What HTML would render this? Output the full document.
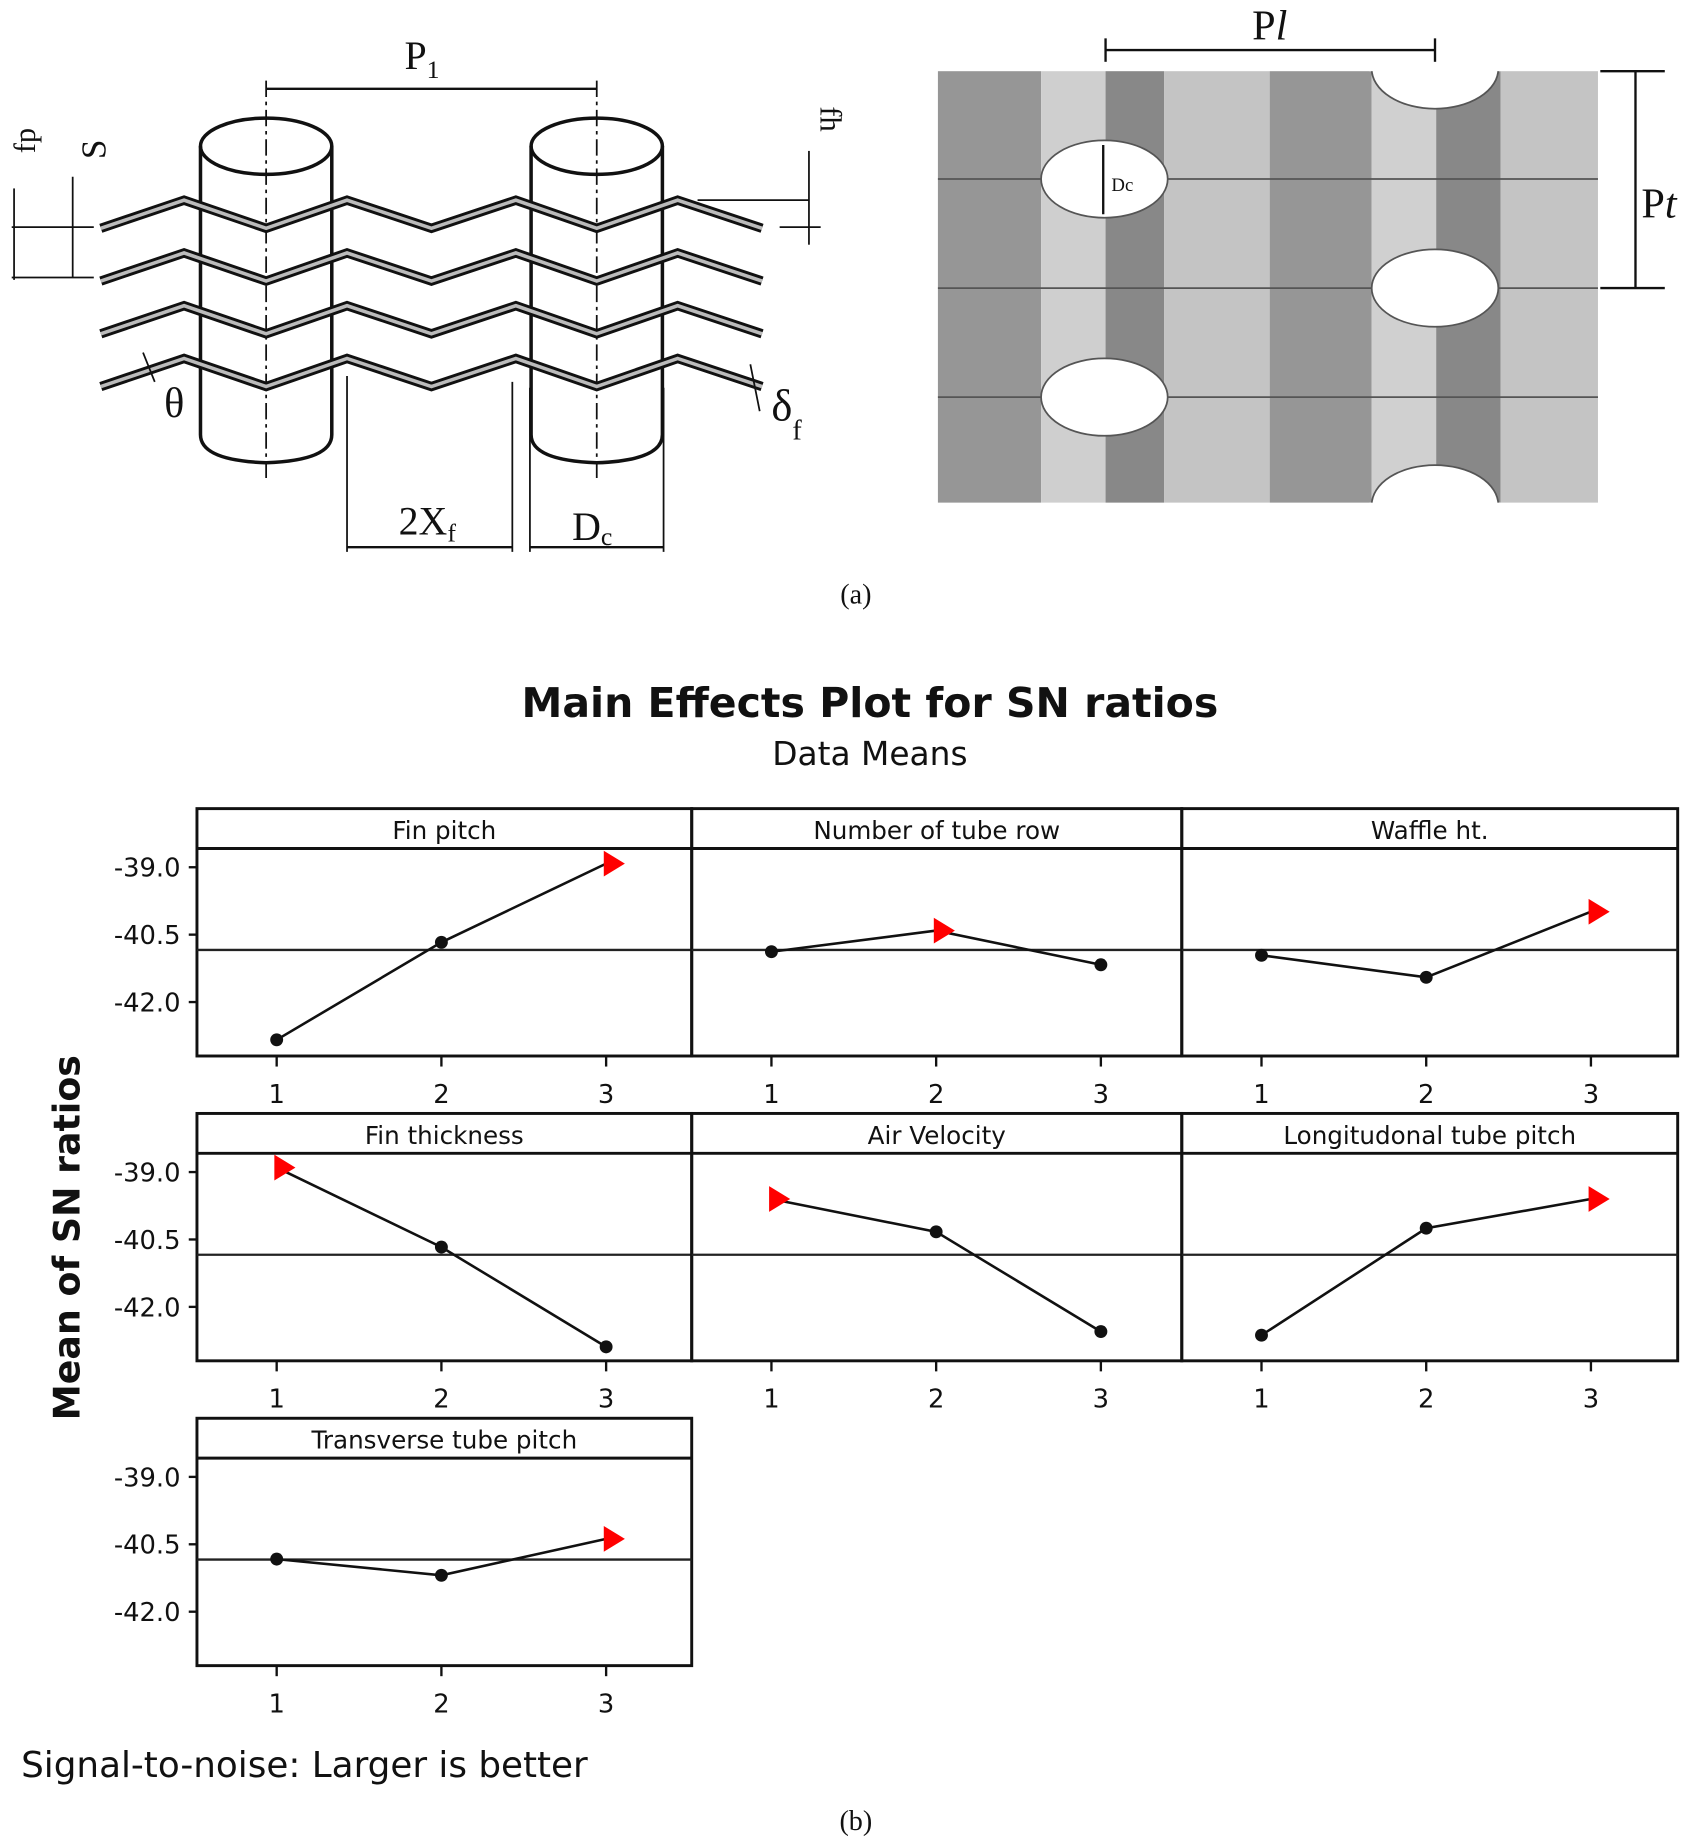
<!DOCTYPE html>
<html><head><meta charset="utf-8"><style>
html,body{margin:0;padding:0;background:#fff;}
svg{display:block;}
</style></head><body>
<svg id="root" width="1707" height="1840" viewBox="0 0 1456 1568" xmlns="http://www.w3.org/2000/svg">
<rect width="1456" height="1568" fill="#fff"/>
<!-- (a) left drawing -->
<g id="fin-drawing" fill="none" stroke="#111">
  <line x1="227" y1="75" x2="509" y2="75" stroke-width="2"/>
  <line x1="227" y1="68" x2="227" y2="410" stroke-width="1.5" stroke-dasharray="14,4,3,4"/>
  <line x1="509" y1="68" x2="509" y2="410" stroke-width="1.5" stroke-dasharray="14,4,3,4"/>
  <g stroke-width="3">
    <ellipse cx="227" cy="124" rx="56" ry="24"/>
    <path d="M171 124 V370 Q171 392 227 394 Q283 392 283 370 V124"/>
  </g>
  <g stroke-width="3">
    <ellipse cx="509" cy="124" rx="56" ry="24"/>
    <path d="M453 124 V370 Q453 392 509 394 Q565 392 565 370 V124"/>
  </g>
  <g id="fins"></g>
  <line x1="12" y1="160" x2="12" y2="238" stroke-width="1.5"/>
  <line x1="10" y1="193" x2="80" y2="193" stroke-width="1.5"/>
  <line x1="10" y1="236" x2="80" y2="236" stroke-width="1.5"/>
  <line x1="62" y1="150" x2="62" y2="236" stroke-width="1.5"/>
  <line x1="690" y1="128" x2="690" y2="208" stroke-width="1.5"/>
  <line x1="665" y1="193" x2="700" y2="193" stroke-width="1.5"/>
  <line x1="595" y1="170" x2="690" y2="170" stroke-width="1.5"/>
  <line x1="296" y1="320" x2="296" y2="470" stroke-width="1.5"/>
  <line x1="437" y1="325" x2="437" y2="470" stroke-width="1.5"/>
  <line x1="296" y1="466" x2="437" y2="466" stroke-width="2"/>
  <line x1="452" y1="330" x2="452" y2="470" stroke-width="1.5"/>
  <line x1="566" y1="330" x2="566" y2="470" stroke-width="1.5"/>
  <line x1="452" y1="466" x2="566" y2="466" stroke-width="2"/>
  <line x1="122" y1="300" x2="132" y2="325" stroke-width="1.5"/>
  <line x1="640" y1="310" x2="648" y2="350" stroke-width="1.5"/>
</g>
<g font-family="Liberation Serif, serif" fill="#111">
  <text x="345" y="58" font-size="34">P<tspan font-size="22" dy="8">1</tspan></text>
  <text x="30" y="130" font-size="26" transform="rotate(-90 30 130)">fp</text>
  <text x="90" y="135" font-size="30" transform="rotate(-90 90 135)">S</text>
  <text x="700" y="90" font-size="26" transform="rotate(90 700 90)">fh</text>
  <text x="140" y="355" font-size="36">θ</text>
  <text x="658" y="358" font-size="38">δ<tspan font-size="24" dy="16">f</tspan></text>
  <text x="340" y="455" font-size="34">2X<tspan font-size="22" dy="6">f</tspan></text>
  <text x="488" y="460" font-size="34">D<tspan font-size="22" dy="4">c</tspan></text>
</g>
<!-- (a) right drawing -->
<g id="plate">
  <rect x="800" y="60" width="88" height="368" fill="#969696"/>
  <rect x="888" y="60" width="55" height="368" fill="#cfcfcf"/>
  <rect x="943" y="60" width="50" height="368" fill="#888"/>
  <rect x="993" y="60" width="90" height="368" fill="#c4c4c4"/>
  <rect x="1083" y="60" width="87" height="368" fill="#969696"/>
  <rect x="1170" y="60" width="55" height="368" fill="#d0d0d0"/>
  <rect x="1225" y="60" width="55" height="368" fill="#888"/>
  <rect x="1280" y="60" width="83" height="368" fill="#c4c4c4"/>
  <g stroke="#555" stroke-width="1.5">
    <line x1="800" y1="152" x2="1363" y2="152"/>
    <line x1="800" y1="245" x2="1363" y2="245"/>
    <line x1="800" y1="338" x2="1363" y2="338"/>
  </g>
  <g fill="#fff" stroke="#555" stroke-width="1.5">
    <ellipse cx="942" cy="152" rx="54" ry="33"/>
    <ellipse cx="1224" cy="245" rx="54" ry="33"/>
    <ellipse cx="942" cy="338" rx="54" ry="33"/>
  </g>
  <path d="M1170 58 A54 34 0 0 0 1278 58" fill="#fff" stroke="#555" stroke-width="1.5"/>
  <rect x="1168" y="56" width="112" height="4" fill="#fff"/>
  <path d="M1170 430 A54 34 0 0 1 1278 430" fill="#fff" stroke="#555" stroke-width="1.5"/>
  <rect x="1168" y="428" width="112" height="4" fill="#fff"/>
  <g stroke="#111" stroke-width="2" fill="none">
    <line x1="941" y1="123" x2="941" y2="182"/>
    <line x1="943" y1="42" x2="1224" y2="42"/>
    <line x1="943" y1="32" x2="943" y2="52"/>
    <line x1="1224" y1="32" x2="1224" y2="52"/>
    <line x1="1395" y1="60" x2="1395" y2="245"/>
    <line x1="1365" y1="60" x2="1420" y2="60"/>
    <line x1="1365" y1="245" x2="1420" y2="245"/>
  </g>
  <text x="948" y="162" font-family="Liberation Serif, serif" font-size="16" fill="#111">Dc</text>
  <text x="1068" y="33" font-family="Liberation Serif, serif" font-size="36" fill="#111">P<tspan font-style="italic">l</tspan></text>
  <text x="1400" y="185" font-family="Liberation Serif, serif" font-size="36" fill="#111">P<tspan font-style="italic">t</tspan></text>
</g>
<text x="730" y="514" font-family="Liberation Serif, serif" font-size="24" text-anchor="middle" fill="#111">(a)</text>
<!-- (b) chart -->
<text x="742" y="611" font-family="DejaVu Sans, sans-serif" font-weight="bold" font-size="35" text-anchor="middle" fill="#111">Main Effects Plot for SN ratios</text>
<text x="742" y="652" font-family="DejaVu Sans, sans-serif" font-size="28" text-anchor="middle" fill="#111">Data Means</text>
<text transform="translate(68 1055) rotate(-90)" font-family="DejaVu Sans, sans-serif" font-weight="bold" font-size="31" text-anchor="middle" fill="#111">Mean of SN ratios</text>
<g id="panels"></g>
<text x="18" y="1515" font-family="DejaVu Sans, sans-serif" font-size="30.5" fill="#111">Signal-to-noise: Larger is better</text>
<text x="730" y="1560" font-family="Liberation Serif, serif" font-size="24" text-anchor="middle" fill="#111">(b)</text>
</svg>
<script>
const factorNames = ["Fin pitch","Number of tube row","Waffle ht.","Fin thickness","Air Velocity","Longitudonal tube pitch","Transverse tube pitch"];
const levels = [1,2,3];
const finPitch = [-42.84,-40.67,-38.92];
const tubeRows = [-40.88,-40.41,-41.17];
const waffleHt = [-40.96,-41.45,-39.99];
const finThickness = [-38.9,-40.67,-42.89];
const airVelocity = [-39.6,-40.33,-42.55];
const longPitch = [-42.63,-40.25,-39.6];
const transPitch = [-40.83,-41.19,-40.38];
const grandMean = -40.84;
const yTicks = [-39.0,-40.5,-42.0];
const yTickLabels = ["-39.0","-40.5","-42.0"];

const NS="http://www.w3.org/2000/svg";
const series=[finPitch,tubeRows,waffleHt,finThickness,airVelocity,longPitch,transPitch];
const panelsG=document.getElementById('panels');
const colX=[168,590,1008], colW=[422,418,423], rowY=[689,949,1209];
function mk(tag,attrs,parent){const e=document.createElementNS(NS,tag);for(const k in attrs)e.setAttribute(k,attrs[k]);parent.appendChild(e);return e;}
function yScale(v,top){return top+50+(-39-v)*38.33;}
series.forEach((vals,i)=>{
  const r=Math.floor(i/3), c=i%3;
  const L=colX[c], W=colW[c], T=rowY[r], B=T+211;
  const g=mk('g',{},panelsG);
  
  
  mk('rect',{x:L,y:T,width:W,height:211,fill:'none',stroke:'#111','stroke-width':2.5},g);
  mk('line',{x1:L,y1:T+34,x2:L+W,y2:T+34,stroke:'#111','stroke-width':2.5},g);
  const t=mk('text',{x:L+W/2,y:T+26,'text-anchor':'middle','font-family':'DejaVu Sans, sans-serif','font-size':21,fill:'#111'},g);
  t.textContent=factorNames[i];
  
  
  const xs=levels.map(l=>L+68+(l-1)*140.5);
  const ym=yScale(grandMean,T);
  const ml=mk('line',{x1:L,y1:ym,x2:L+W,y2:ym,stroke:'#222','stroke-width':2},g);
  
  
  if(c===0){
    yTicks.forEach((tv,k)=>{
      const yy=yScale(tv,T);
      mk('line',{x1:L-7,y1:yy,x2:L,y2:yy,stroke:'#111','stroke-width':2},g);
      const tl=mk('text',{x:L-14,y:yy+8,'text-anchor':'end','font-family':'DejaVu Sans, sans-serif','font-size':22,fill:'#111'},g);
      tl.textContent=yTickLabels[k];
      
      
    });
  }
  levels.forEach((l,k)=>{
    mk('line',{x1:xs[k],y1:B,x2:xs[k],y2:B+9,stroke:'#111','stroke-width':2},g);
    const xl=mk('text',{x:xs[k],y:B+40,'text-anchor':'middle','font-family':'DejaVu Sans, sans-serif','font-size':22,fill:'#111'},g);
    xl.textContent=String(l);
    
    
  });
  const pts=vals.map((v,k)=>xs[k]+','+yScale(v,T)).join(' ');
  const pl=mk('polyline',{points:pts,fill:'none',stroke:'#111','stroke-width':2.2},g);
  
  
  const mx=Math.max(...vals);
  vals.forEach((v,k)=>{
    const x=xs[k], y=yScale(v,T);
    let m;
    if(v===mx){
      m=mk('polygon',{points:(x-2)+','+(y-11)+' '+(x+16)+','+y+' '+(x-2)+','+(y+11),fill:'#f00'},g);
      
    } else {
      m=mk('circle',{cx:x,cy:y,r:5.5,fill:'#111'},g);
      
    }
    
  });
});
// fins
const fins=document.getElementById('fins');
const fx=[86,157,227,296,368,440,509,578,650];
const fy=[194,170,194,170,194,170,194,170,194];
[0,45,90,135].forEach(off=>{
  const p=fx.map((x,k)=>x+','+(fy[k]+off)).join(' ');
  mk('polyline',{points:p,stroke:'#111','stroke-width':8,fill:'none'},fins);
  mk('polyline',{points:p,stroke:'#bbb','stroke-width':3,fill:'none'},fins);
});
</script>
</body></html>
